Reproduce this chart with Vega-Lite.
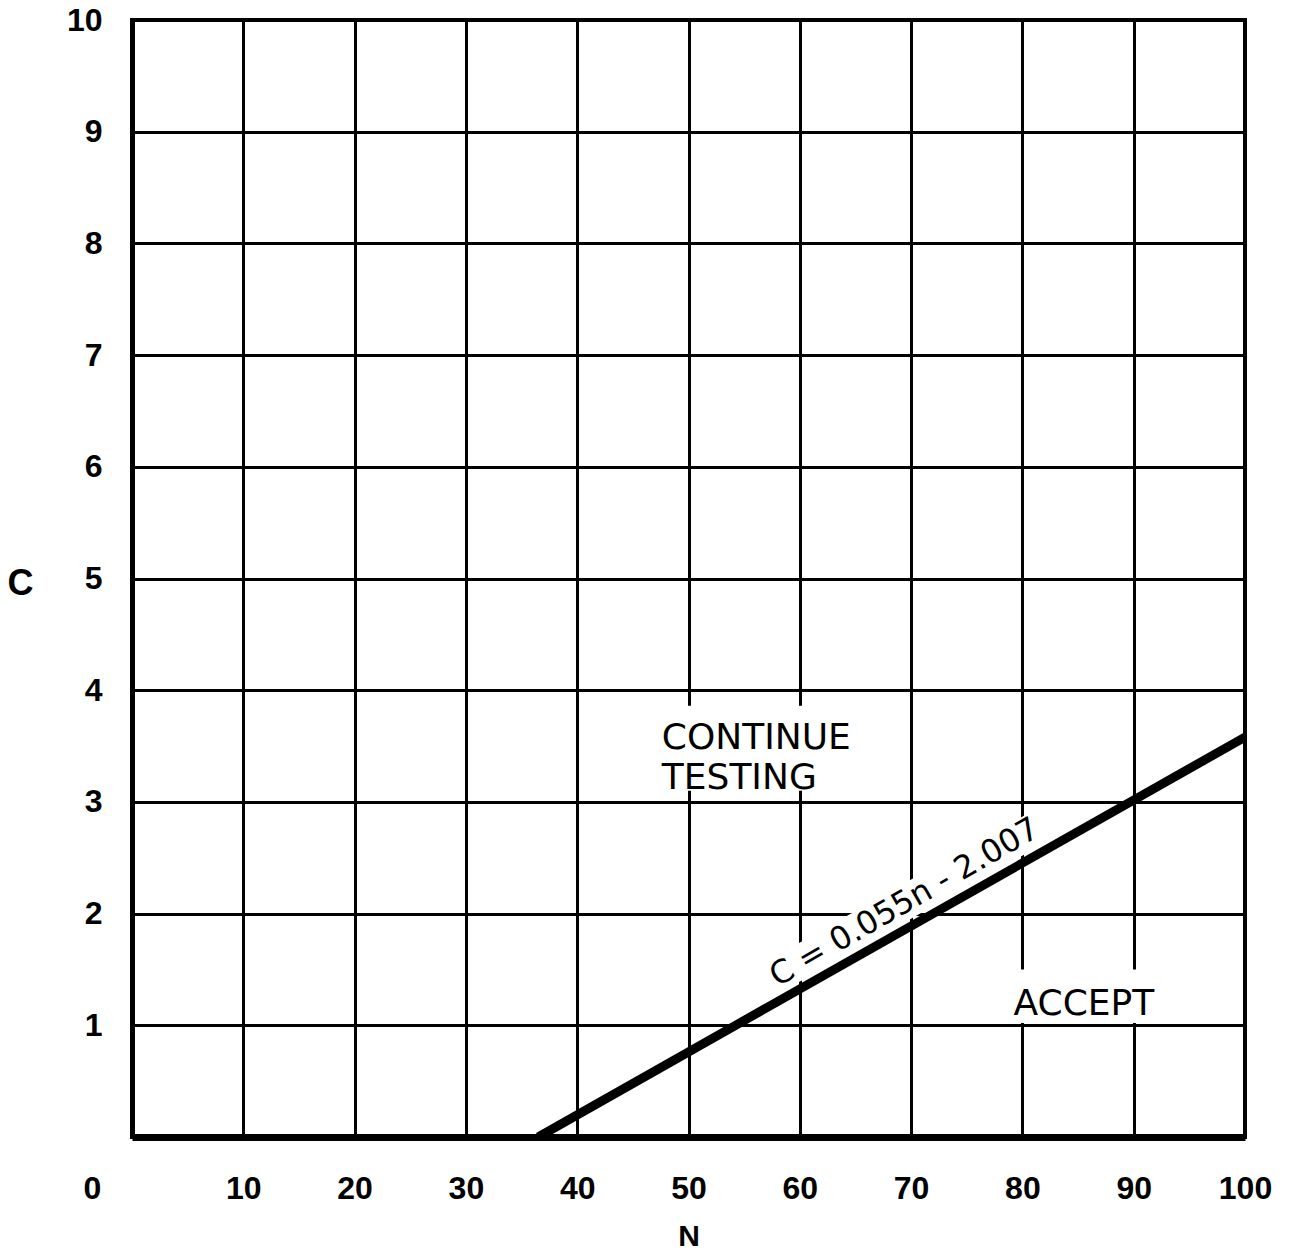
{
  "$schema": "https://vega.github.io/schema/vega-lite/v6.json",
  "width": 1113,
  "height": 1117,
  "autosize": "none",
  "padding": {"left": 132, "top": 20, "right": 44, "bottom": 120},
  "background": "white",
  "config": {
    "view": {"stroke": "black", "strokeWidth": 4},
    "font": "Liberation Sans"
  },
  "datasets": {
    "boundary": [{"n": 36.5, "c": 0}, {"n": 100, "c": 3.58}],
    "gaps": [
      {"n": 47, "n2": 66, "c": 3.1, "c2": 3.86},
      {"n": 78.8, "n2": 93.5, "c": 1.02, "c2": 1.5}
    ],
    "labelband": [{"n": 56.0, "c": 1.34}, {"n": 82.6, "c": 2.84}],
    "regions": [
      {"n": 47.6, "c": 3.47, "label": ["CONTINUE", "TESTING"]},
      {"n": 79.2, "c": 1.09, "label": ["ACCEPT"]}
    ],
    "equation": [{"n": 69.4, "c": 2.1, "label": "C = 0.055n - 2.007"}]
  },
  "encoding": {
    "x": {
      "field": "n",
      "type": "quantitative",
      "scale": {"domain": [0, 100], "nice": false, "zero": false},
      "axis": {
        "values": [0, 10, 20, 30, 40, 50, 60, 70, 80, 90, 100],
        "grid": true,
        "gridColor": "black",
        "gridWidth": 3,
        "gridOpacity": 1,
        "ticks": false,
        "domainColor": "black",
        "domainWidth": 7,
        "labelFont": "Liberation Sans",
        "labelFontSize": 32,
        "labelFontWeight": "bold",
        "labelColor": "black",
        "labelPadding": 36,
        "labelFlush": false,
        "labelOffset": {"condition": {"test": "datum.value === 0", "value": -40}, "value": 0},
        "title": "N",
        "titleFont": "Liberation Sans",
        "titleFontSize": 30,
        "titleFontWeight": "bold",
        "titleColor": "black",
        "titlePadding": 17
      }
    },
    "y": {
      "field": "c",
      "type": "quantitative",
      "scale": {"domain": [0, 10], "nice": false, "zero": false},
      "axis": {
        "values": [0, 1, 2, 3, 4, 5, 6, 7, 8, 9, 10],
        "labelExpr": "datum.value === 0 ? '' : datum.label",
        "grid": true,
        "gridColor": "black",
        "gridWidth": 3,
        "gridOpacity": 1,
        "ticks": false,
        "domainColor": "black",
        "domainWidth": 5,
        "labelFont": "Liberation Sans",
        "labelFontSize": 32,
        "labelFontWeight": "bold",
        "labelColor": "black",
        "labelPadding": 30,
        "title": "C",
        "titleFont": "Liberation Sans",
        "titleFontSize": 36,
        "titleFontWeight": "bold",
        "titleColor": "black",
        "titleAngle": 0,
        "titleAlign": "center",
        "titleBaseline": "middle",
        "titleX": -112,
        "titleY": 563
      }
    }
  },
  "layer": [
    {
      "data": {"name": "gaps"},
      "mark": {"type": "rect", "color": "white"},
      "encoding": {
        "x2": {"field": "n2"},
        "y2": {"field": "c2"}
      }
    },
    {
      "data": {"name": "labelband"},
      "mark": {"type": "line", "color": "white", "strokeWidth": 34, "strokeCap": "butt"},
      "encoding": {}
    },
    {
      "data": {"name": "boundary"},
      "mark": {"type": "line", "color": "black", "strokeWidth": 9, "strokeCap": "butt"},
      "encoding": {}
    },
    {
      "data": {"name": "equation"},
      "mark": {"type": "text", "angle": -30, "fontSize": 32, "font": "DejaVu Sans", "align": "center", "baseline": "middle", "fill": "black"},
      "encoding": {"text": {"field": "label"}}
    },
    {
      "data": {"name": "regions"},
      "mark": {"type": "text", "fontSize": 36, "font": "DejaVu Sans", "align": "left", "baseline": "alphabetic", "lineHeight": 40, "color": "black"},
      "encoding": {"text": {"field": "label"}}
    }
  ]
}
